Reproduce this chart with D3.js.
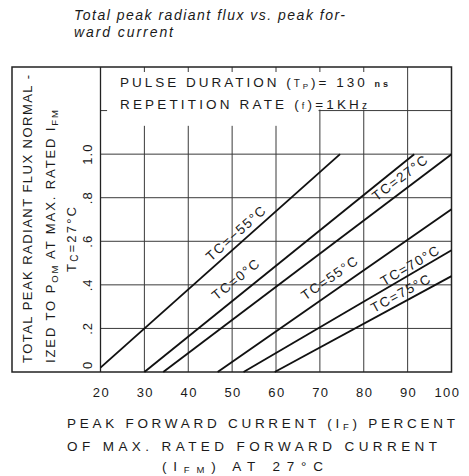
<!DOCTYPE html>
<html>
<head>
<meta charset="utf-8">
<script src="https://cdn.jsdelivr.net/npm/d3@7"></script>
<style>
  body { margin: 0; background: #fff; }
  svg { display: block; }
  text { font-family: "Liberation Sans", Arial, sans-serif; fill: #1a1a1a; }
  .grid { stroke: #3a3a3a; stroke-width: 1; }
  .curve { stroke: #111; stroke-width: 1.9; fill: none; }
</style>
</head>
<body>
<svg width="469" height="476"></svg>
<script>
// case temperature of each curve
var temps = ["\u221255", "0", "27", "55", "70", "75"];
// start / end of each straight curve: peak forward current (%) and normalized flux
var currentStart = [20, 30, 34.3, 46.7, 52.6, 59.7];
var fluxStart = [0.02, 0, 0, 0, 0, 0];
var currentEnd = [74.6, 91.5, 100, 100, 100, 100];
var fluxEnd = [1.0, 1.0, 1.0, 0.747, 0.559, 0.44];

// where the "TC=" label sits along each curve (current %)
var labelAt = [52.5, 53, 90, 74, 91.5, 89.5];
var labelGap = [5.5, 10, 7.5, 8.5, 3, 4.5];

var xTicks = [20, 30, 40, 50, 60, 70, 80, 90, 100];
var yTicks = [0, 0.2, 0.4, 0.6, 0.8, 1.0];
var yTickLabels = ["0", ".2", ".4", ".6", ".8", "1.0"];

var svg = d3.select("svg");

var x = d3.scaleLinear().domain([20, 100]).range([100.5, 451.5]);
var y = d3.scaleLinear().domain([0, 1.4]).range([372, 67]);

// title
svg.append("text")
    .attr("x", 74).attr("y", 19.5)
    .attr("textLength", 271)
    .style("font-style", "italic").style("font-size", "14px")
    .text("Total peak radiant flux vs. peak for-");
svg.append("text")
    .attr("x", 74).attr("y", 37)
    .attr("textLength", 99)
    .style("font-style", "italic").style("font-size", "14px")
    .text("ward current");

// grid
var g = svg.append("g");
g.selectAll(".vx")
  .data(xTicks.slice(1, -1))
  .enter().append("line")
    .attr("class", "grid")
    .attr("x1", function(d) { return x(d); })
    .attr("x2", function(d) { return x(d); })
    .attr("y1", y(0)).attr("y2", y(1.4));
g.selectAll(".hy")
  .data([0.2, 0.4, 0.6, 0.8, 1.0, 1.2])
  .enter().append("line")
    .attr("class", "grid")
    .attr("x1", x(20)).attr("x2", x(100))
    .attr("y1", function(d) { return y(d); })
    .attr("y2", function(d) { return y(d); });

// blank area behind the test-condition note
g.append("rect")
    .attr("x", x(21.5)).attr("y", y(1.4))
    .attr("width", x(69.7) - x(21.5)).attr("height", y(1.13) - y(1.4))
    .attr("fill", "#fff");
g.append("rect")
    .attr("x", x(69.7)).attr("y", y(1.4))
    .attr("width", x(89.7) - x(69.7)).attr("height", y(1.205) - y(1.4))
    .attr("fill", "#fff");

// small ticks along the top edge
g.selectAll(".tt")
  .data(xTicks.slice(1, 7))
  .enter().append("line")
    .attr("class", "grid")
    .attr("x1", function(d) { return x(d); })
    .attr("x2", function(d) { return x(d); })
    .attr("y1", y(1.4)).attr("y2", y(1.4) + 5);

// frames
svg.append("rect")
    .attr("x", 12).attr("y", y(1.4))
    .attr("width", x(100) - 12).attr("height", y(0) - y(1.4))
    .attr("fill", "none").attr("stroke", "#222").attr("stroke-width", 1.5);
svg.append("line")
    .attr("x1", x(20)).attr("x2", x(20))
    .attr("y1", y(0)).attr("y2", y(1.4))
    .attr("stroke", "#222").attr("stroke-width", 1.3);

// note
var note = svg.append("g").style("font-size", "13.5px");
var n1 = note.append("text").attr("x", 120).attr("y", 87).attr("textLength", 268);
n1.append("tspan").text("PULSE DURATION (");
n1.append("tspan").style("font-size", "10px").text("T");
n1.append("tspan").style("font-size", "8px").attr("dy", 2).text("P");
n1.append("tspan").attr("dy", -2).text(")= 130 ");
n1.append("tspan").style("font-size", "9px").style("font-weight", "bold").text("ns");
var n2 = note.append("text").attr("x", 120).attr("y", 109).attr("textLength", 247);
n2.append("tspan").text("REPETITION RATE (");
n2.append("tspan").style("font-size", "9px").text("f");
n2.append("tspan").text(")=1KH");
n2.append("tspan").style("font-size", "10px").text("z");

// curves
var series = temps.map(function(t, i) {
  return {
    temp: t,
    pts: [[currentStart[i], fluxStart[i]], [currentEnd[i], fluxEnd[i]]],
    lx: labelAt[i], gap: labelGap[i]
  };
});

var line = d3.line()
    .x(function(d) { return x(d[0]); })
    .y(function(d) { return y(d[1]); });

svg.selectAll(".curve")
  .data(series)
  .enter().append("path")
    .attr("class", "curve")
    .attr("d", function(d) { return line(d.pts); });

svg.selectAll(".lbl")
  .data(series)
  .enter().append("text")
    .attr("class", "lbl")
    .attr("text-anchor", "middle")
    .style("font-size", "13.5px")
    .style("letter-spacing", "1.5px")
    .attr("transform", function(d) {
      var p0 = d.pts[0], p1 = d.pts[1];
      var f = p0[1] + (p1[1] - p0[1]) * (d.lx - p0[0]) / (p1[0] - p0[0]);
      var ang = Math.atan2(y(p1[1]) - y(p0[1]), x(p1[0]) - x(p0[0])) * 180 / Math.PI;
      return "translate(" + x(d.lx) + "," + y(f) + ") rotate(" + ang + ")";
    })
    .attr("y", function(d) { return -d.gap; })
    .text(function(d) { return "TC=" + d.temp + "\u00b0C"; });

// x tick labels
svg.selectAll(".xt")
  .data(xTicks)
  .enter().append("text")
    .attr("text-anchor", "middle")
    .style("font-size", "13px").style("letter-spacing", "1.5px")
    .attr("x", function(d) { return d == 100 ? x(d) - 4 : x(d) + 1; })
    .attr("y", 397)
    .text(function(d) { return d; });

// y tick labels (rotated)
svg.selectAll(".yt")
  .data(yTicks)
  .enter().append("text")
    .attr("text-anchor", "middle")
    .style("font-size", "13px").style("letter-spacing", "1px")
    .attr("transform", function(d) {
      var yy = d == 0 ? y(d) - 7 : y(d);
      return "translate(92," + yy + ") rotate(-90)";
    })
    .text(function(d, i) { return yTickLabels[i]; });

// y axis title
var yt = svg.append("g").style("font-size", "13px");
yt.append("text")
    .attr("transform", "translate(32,363) rotate(-90)")
    .attr("textLength", 288)
    .text("TOTAL PEAK RADIANT FLUX NORMAL -");
var yl2 = yt.append("text")
    .attr("transform", "translate(55,363) rotate(-90)")
    .attr("textLength", 253);
yl2.append("tspan").text("IZED TO P");
yl2.append("tspan").style("font-size", "9.5px").attr("dy", 3).text("OM");
yl2.append("tspan").attr("dy", -3).text(" AT MAX. RATED I");
yl2.append("tspan").style("font-size", "9.5px").attr("dy", 3).text("FM");
var yl3 = yt.append("text")
    .attr("transform", "translate(76,272) rotate(-90)")
    .attr("textLength", 65);
yl3.append("tspan").text("T");
yl3.append("tspan").style("font-size", "10px").attr("dy", 2).text("C");
yl3.append("tspan").attr("dy", -2).text("=27\u00b0C");

// x axis title
var xt = svg.append("g").style("font-size", "13.5px");
var xl1 = xt.append("text").attr("x", 67).attr("y", 428).attr("textLength", 388);
xl1.append("tspan").text("PEAK FORWARD CURRENT (I");
xl1.append("tspan").style("font-size", "9.5px").attr("dy", 2).text("F");
xl1.append("tspan").attr("dy", -2).text(") PERCENT");
xt.append("text").attr("x", 67).attr("y", 451).attr("textLength", 370)
    .text("OF MAX. RATED FORWARD CURRENT");
var xl3 = xt.append("text").attr("x", 162).attr("y", 471).attr("textLength", 161);
xl3.append("tspan").text("(I");
xl3.append("tspan").style("font-size", "9.5px").attr("dy", 1.5).text("FM");
xl3.append("tspan").attr("dy", -1.5).text(") AT 27\u00b0C");
</script>
</body>
</html>
